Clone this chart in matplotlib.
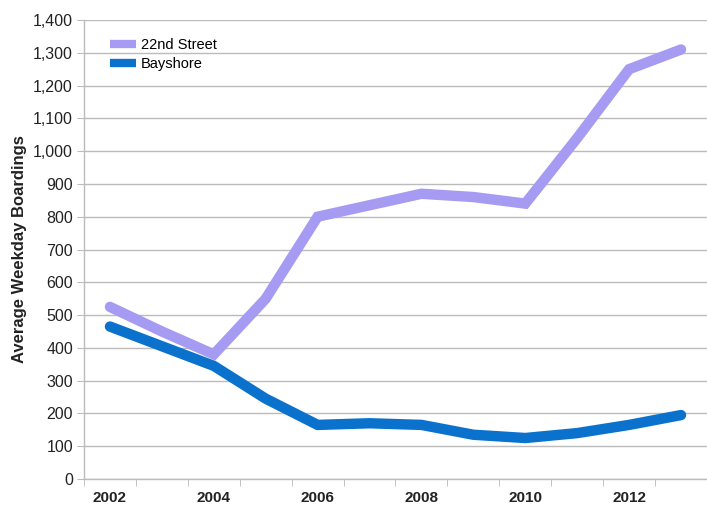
import matplotlib
matplotlib.use("Agg")
import matplotlib.pyplot as plt
from matplotlib.ticker import FuncFormatter, FixedLocator

plt.rcParams['font.family'] = ['Liberation Sans', 'DejaVu Sans']

years = [2002, 2003, 2004, 2005, 2006, 2007, 2008, 2009, 2010, 2011, 2012, 2013]
street22 = [525, 450, 380, 550, 800, 835, 870, 860, 840, 1040, 1250, 1310]
bayshore = [465, 405, 345, 245, 165, 170, 165, 135, 125, 140, 165, 195]
tick_labels = ['2002', '2004', '2006', '2008', '2010', '2012']

fig = plt.figure(figsize=(7.07, 5.12), dpi=100)
ax = fig.add_axes([84/707, 1-479/512, 623/707, 459/512])

x = list(range(len(years)))
ax.plot(x, street22, color='#A59BF2', lw=7.5, solid_capstyle='round', solid_joinstyle='miter', label='22nd Street', zorder=3)
ax.plot(x, bayshore, color='#0A72CC', lw=7.5, solid_capstyle='round', solid_joinstyle='miter', label='Bayshore', zorder=3)

ax.set_xlim(-0.5, len(years) - 0.5)
ax.set_ylim(0, 1400)
ax.set_yticks(range(0, 1401, 100))
ax.yaxis.set_major_formatter(FuncFormatter(lambda v, p: f"{int(v):,}"))
ax.grid(axis='y', color='#BBBBBB', lw=1)
ax.set_axisbelow(True)

label_pos = [years.index(int(t)) for t in tick_labels]
ax.set_xticks(label_pos)
ax.set_xticklabels(tick_labels, fontweight='bold', fontsize=11, color='#222222')
ax.tick_params(axis='x', which='major', length=0, pad=9)
ax.xaxis.set_minor_locator(FixedLocator([i - 0.5 for i in range(len(years) + 1)]))
ax.tick_params(axis='x', which='minor', length=5, color='#BBBBBB', direction='out')
ax.tick_params(axis='y', length=5, color='#BBBBBB', labelsize=11.5, labelcolor='#222222', pad=3)

for s in ['top', 'right']:
    ax.spines[s].set_visible(False)
for s in ['left', 'bottom']:
    ax.spines[s].set_color('#BBBBBB')
    ax.spines[s].set_linewidth(1)

ax.set_ylabel('Average Weekday Boardings', fontweight='bold', fontsize=12, color='#222222', labelpad=4)

leg = ax.legend(loc='upper left', bbox_to_anchor=(0.02, 0.99), frameon=False, fontsize=10.5,
                handlelength=1.8, handletextpad=0.35, labelspacing=0.38)
for line in leg.get_lines():
    line.set_linewidth(6)
    line.set_solid_capstyle('butt')

fig.savefig('out.png', dpi=100)
